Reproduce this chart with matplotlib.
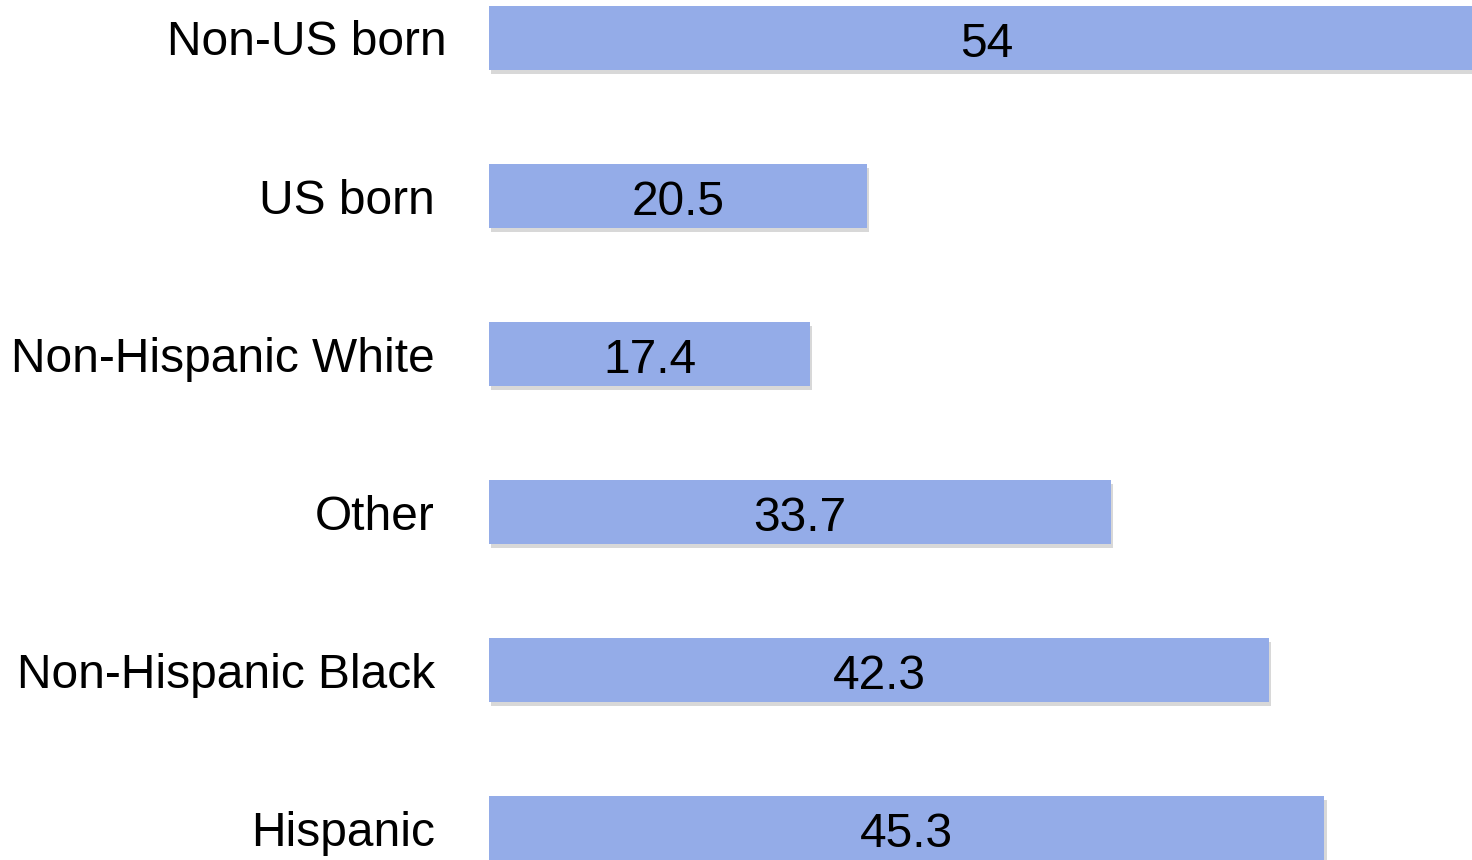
import matplotlib.pyplot as plt
import matplotlib.patheffects as pe
import matplotlib.transforms as mtransforms

categories = ['Hispanic', 'Non-Hispanic Black', 'Other', 'Non-Hispanic White', 'US born', 'Non-US born']
values = [45.3, 42.3, 33.7, 17.4, 20.5, 54]
value_labels = ['45.3', '42.3', '33.7', '17.4', '20.5', '54']

plt.rcParams['font.family'] = ['Liberation Sans', 'DejaVu Sans']

fig = plt.figure(figsize=(14.72, 8.6), dpi=100)
ax = fig.add_axes([489 / 1472, 0, 1 - 489 / 1472, 1])

ypos = list(range(len(categories)))
bars = ax.barh(ypos, values, height=0.405, color='#94ACE8')
for b in bars:
    b.set_path_effects([pe.SimplePatchShadow(offset=(1.5, -3), shadow_rgbFace='#aaaaaa', alpha=0.45), pe.Normal()])

for y, v, lab in zip(ypos, values, value_labels):
    ax.text(v / 2, y - 0.008, lab, ha='center', va='center_baseline', fontsize=34.5, color='black')

ax.set_xlim(0, 53.3)
ax.set_ylim(-0.2025, 5.2405)
ax.set_yticks(ypos)
ax.set_yticklabels(categories, fontsize=34.5)
ax.tick_params(axis='y', length=0, pad=39)
ax.set_xticks([])
for s in ax.spines.values():
    s.set_visible(False)

# top label sits a bit further right in the original
top = ax.get_yticklabels()[-1]
top.set_transform(top.get_transform() + mtransforms.ScaledTranslation(0.12, 0, fig.dpi_scale_trans))

fig.savefig('out.png', dpi=100)
